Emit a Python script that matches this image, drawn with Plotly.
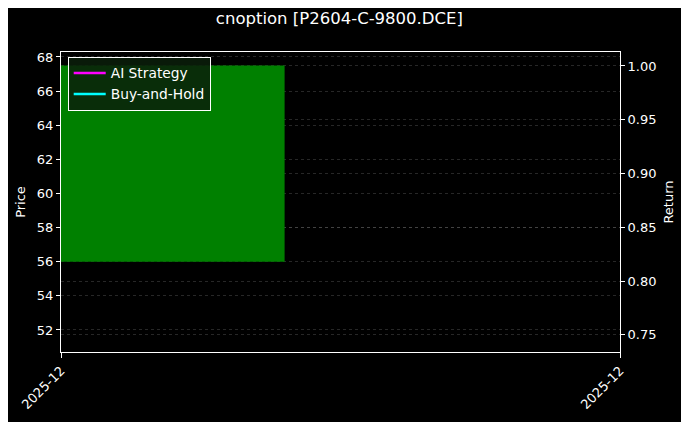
import plotly.graph_objects as go

title = "cnoption [P2604-C-9800.DCE]"
bar_dates = ["2025-12-10"]
bar_open = [56.0]
bar_close = [67.5]
ret_dates = ["2025-12-10"]
ai_return = [1.0]
bh_return = [1.0]
x_range = ["2025-12-10", "2025-12-11"]

DAY_MS = 86400000
font = dict(family="DejaVu Sans", size=13, color="white")
grid = dict(showgrid=True, gridcolor="rgba(128,128,128,0.3)", griddash="dot", gridwidth=0.5)

fig = go.Figure()
fig.add_trace(go.Bar(
    x=bar_dates, y=[c - o for o, c in zip(bar_open, bar_close)], base=bar_open,
    width=0.4 * DAY_MS, offset=0, marker_color="green", marker_line_width=0,
    showlegend=False, yaxis="y",
))
fig.add_trace(go.Scatter(x=ret_dates, y=ai_return, mode="lines", name="AI Strategy",
                         line=dict(color="magenta", width=2.5), yaxis="y2"))
fig.add_trace(go.Scatter(x=ret_dates, y=bh_return, mode="lines", name="Buy-and-Hold",
                         line=dict(color="cyan", width=2.5), yaxis="y2"))

# the page body adds an 8px offset, so margins are shifted to compensate
fig.update_layout(
    width=689, height=422,
    paper_bgcolor="black", plot_bgcolor="black",
    font=font,
    title=dict(text=title, x=0.481, xanchor="center", y=0.976, yanchor="middle",
               font=dict(family="DejaVu Sans", size=16.5, color="white")),
    margin=dict(l=53, r=77, t=44, b=78, autoexpand=False),
    xaxis=dict(type="date", range=x_range, tickvals=x_range, tickformat="%Y-%m",
               tickangle=-45, ticks="outside", tickcolor="white", ticklen=5,
               showline=True, linecolor="white", linewidth=1, mirror=True,
               showgrid=False, zeroline=False, automargin=False),
    yaxis=dict(range=[50.71, 68.29], dtick=2,
               title=dict(text="Price", standoff=8, font=dict(size=13)),
               ticks="outside", tickcolor="white", ticklen=4,
               showline=True, linecolor="white", linewidth=1, mirror=True,
               zeroline=False, automargin=False, **grid),
    yaxis2=dict(range=[0.734, 1.013], dtick=0.05, tickformat=".2f", overlaying="y", side="right",
                title=dict(text="Return", standoff=8, font=dict(size=13)),
                ticks="outside", tickcolor="white", ticklen=4,
                showline=True, linecolor="white", linewidth=1,
                zeroline=False, automargin=False, **grid),
    legend=dict(x=0.012, y=0.985, xanchor="left", yanchor="top",
                bgcolor="rgba(10,30,10,0.85)", bordercolor="white", borderwidth=1,
                font=dict(family="DejaVu Sans", size=13.8, color="white"),
                itemwidth=32, tracegroupgap=0),
    barmode="overlay",
)

fig.write_html("out.html")
